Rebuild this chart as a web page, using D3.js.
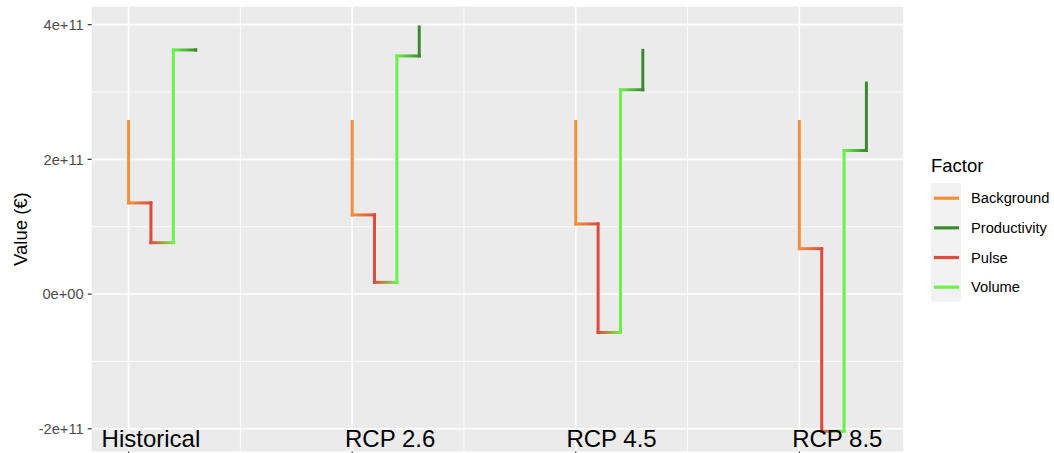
<!DOCTYPE html>
<html>
<head>
<meta charset="utf-8">
<script src="https://cdn.jsdelivr.net/npm/d3@7"></script>
<style>
  body { margin: 0; background: #fff; }
  text { font-family: "Liberation Sans", Arial, sans-serif; }
</style>
</head>
<body>
<script>
// scenarios and the level reached after each factor (EUR)
var scenarios = ["Historical", "RCP 2.6", "RCP 4.5", "RCP 8.5"];
var startLevel = [2.562e11, 2.562e11, 2.562e11, 2.562e11];
var afterBackground = [1.353e11, 1.175e11, 1.041e11, 0.674e11];
var afterPulse = [0.763e11, 0.174e11, -0.570e11, -2.037e11];
var afterVolume = [3.624e11, 3.535e11, 3.033e11, 2.131e11];
var afterProductivity = [3.624e11, 3.966e11, 3.618e11, 3.133e11];

var factorOrder = ["Background", "Pulse", "Volume", "Productivity"];
var legendFactors = ["Background", "Productivity", "Pulse", "Volume"];
var yTicks = [-2e11, 0, 2e11, 4e11];
var yMinor = [-1e11, 1e11, 3e11];
var labelShift = [0.10, 0.17, 0.16, 0.17];

var colors = {
    Background: "#f0913a",
    Productivity: "#3c8a2e",
    Pulse: "#e04a3c",
    Volume: "#6cf04a"
};

var W = 1054, H = 453;
var panelLeft = 91.7, panelRight = 903.3, panelTop = 6.7, panelBottom = 451.5;

// build the path points: x offset 0.1 per factor
var points = [];
scenarios.forEach(function (s, i) {
    var levels = [startLevel[i], afterBackground[i], afterPulse[i], afterVolume[i], afterProductivity[i]];
    var pts = [];
    factorOrder.forEach(function (f, j) {
        var xv = i + 1 + j * 0.1;
        pts.push({ x: xv, y: levels[j], f: f });
        pts.push({ x: xv, y: levels[j + 1], f: f });
    });
    points.push(pts);
});

var allX = [], allY = [];
points.forEach(function (pts) {
    pts.forEach(function (p) { allX.push(p.x); allY.push(p.y); });
});
var xe = d3.extent(allX), ye = d3.extent(allY);
var xp = (xe[1] - xe[0]) * 0.05, yp = (ye[1] - ye[0]) * 0.05;

var x = d3.scaleLinear().domain([xe[0] - xp, xe[1] + xp]).range([panelLeft, panelRight]);
var y = d3.scaleLinear().domain([ye[0] - yp, ye[1] + yp]).range([panelBottom, panelTop]);

var svg = d3.select("body").append("svg")
    .attr("width", W)
    .attr("height", H);

var defs = svg.append("defs");

svg.append("rect")
    .attr("x", panelLeft).attr("y", panelTop)
    .attr("width", panelRight - panelLeft).attr("height", panelBottom - panelTop)
    .style("fill", "#ebebeb");

// grid
svg.selectAll(".yminor").data(yMinor).enter().append("line")
    .attr("x1", panelLeft).attr("x2", panelRight)
    .attr("y1", function (d) { return y(d); })
    .attr("y2", function (d) { return y(d); })
    .style("stroke", "#fff").style("stroke-width", 0.8);

svg.selectAll(".xminor").data([1.5, 2.5, 3.5]).enter().append("line")
    .attr("y1", panelTop).attr("y2", panelBottom)
    .attr("x1", function (d) { return x(d); })
    .attr("x2", function (d) { return x(d); })
    .style("stroke", "#fff").style("stroke-width", 0.8);

svg.selectAll(".ymajor").data(yTicks).enter().append("line")
    .attr("x1", panelLeft).attr("x2", panelRight)
    .attr("y1", function (d) { return y(d); })
    .attr("y2", function (d) { return y(d); })
    .style("stroke", "#fff").style("stroke-width", 1.6);

svg.selectAll(".xmajor").data([1, 2, 3, 4]).enter().append("line")
    .attr("y1", panelTop).attr("y2", panelBottom)
    .attr("x1", function (d) { return x(d); })
    .attr("x2", function (d) { return x(d); })
    .style("stroke", "#fff").style("stroke-width", 1.6);

// step paths, horizontal parts fade from one factor colour to the next
var segs = [];
points.forEach(function (pts, i) {
    for (var k = 0; k < pts.length - 1; k++) {
        segs.push({ a: pts[k], b: pts[k + 1], id: "g" + i + "_" + k });
    }
});

segs.forEach(function (s) {
    if (s.a.f != s.b.f) {
        var g = defs.append("linearGradient")
            .attr("id", s.id)
            .attr("gradientUnits", "userSpaceOnUse")
            .attr("x1", x(s.a.x)).attr("x2", x(s.b.x))
            .attr("y1", 0).attr("y2", 0);
        g.append("stop").attr("offset", "0%").attr("stop-color", colors[s.a.f]);
        g.append("stop").attr("offset", "100%").attr("stop-color", colors[s.b.f]);
    }
});

svg.selectAll(".seg").data(segs).enter().append("line")
    .attr("x1", function (d) { return x(d.a.x); })
    .attr("x2", function (d) { return x(d.b.x); })
    .attr("y1", function (d) { return y(d.a.y); })
    .attr("y2", function (d) { return y(d.b.y); })
    .style("stroke", function (d) {
        return d.a.f == d.b.f ? colors[d.a.f] : "url(#" + d.id + ")";
    })
    .style("stroke-width", 3)
    .style("stroke-linecap", "square");

// y axis
svg.selectAll(".ytick").data(yTicks).enter().append("line")
    .attr("x1", panelLeft - 4).attr("x2", panelLeft)
    .attr("y1", function (d) { return y(d); })
    .attr("y2", function (d) { return y(d); })
    .style("stroke", "#333").style("stroke-width", 1.2);

var fmt = function (d) {
    if (d == 0) return "0e+00";
    return (d / 1e11) + "e+11";
};

svg.selectAll(".ylab").data(yTicks).enter().append("text")
    .attr("x", panelLeft - 8)
    .attr("y", function (d) { return y(d); })
    .attr("dy", "0.36em")
    .attr("text-anchor", "end")
    .style("font-size", "14.7px")
    .style("fill", "#4d4d4d")
    .text(fmt);

svg.append("text")
    .attr("transform", "translate(27," + ((panelTop + panelBottom) / 2) + ") rotate(-90)")
    .attr("text-anchor", "middle")
    .style("font-size", "18.5px")
    .style("fill", "#000")
    .text("Value (€)");

// x axis ticks and scenario labels
svg.selectAll(".xtick").data([1, 2, 3, 4]).enter().append("line")
    .attr("x1", function (d) { return x(d); })
    .attr("x2", function (d) { return x(d); })
    .attr("y1", panelBottom).attr("y2", panelBottom + 4)
    .style("stroke", "#333").style("stroke-width", 1.2);

svg.selectAll(".xlab").data(scenarios).enter().append("text")
    .attr("x", function (d, i) { return x(i + 1 + labelShift[i]); })
    .attr("y", 447)
    .attr("text-anchor", "middle")
    .style("font-size", "24px")
    .style("fill", "#000")
    .text(function (d) { return d; });

// legend
var lg = svg.append("g").attr("transform", "translate(931,0)");

lg.append("text")
    .attr("x", 0).attr("y", 172)
    .style("font-size", "18.5px")
    .style("fill", "#000")
    .text("Factor");

lg.append("rect")
    .attr("x", 0).attr("y", 183)
    .attr("width", 30).attr("height", 118.6)
    .style("fill", "#f2f2f2");

var items = lg.selectAll(".item").data(legendFactors).enter().append("g")
    .attr("transform", function (d, i) { return "translate(0," + (198.2 + i * 29.65) + ")"; });

items.append("line")
    .attr("x1", 3).attr("x2", 28)
    .attr("y1", 0).attr("y2", 0)
    .style("stroke", function (d) { return colors[d]; })
    .style("stroke-width", 3.2);

items.append("text")
    .attr("x", 40).attr("y", 0)
    .attr("dy", "0.36em")
    .style("font-size", "14.7px")
    .style("fill", "#000")
    .text(function (d) { return d; });
</script>
</body>
</html>
